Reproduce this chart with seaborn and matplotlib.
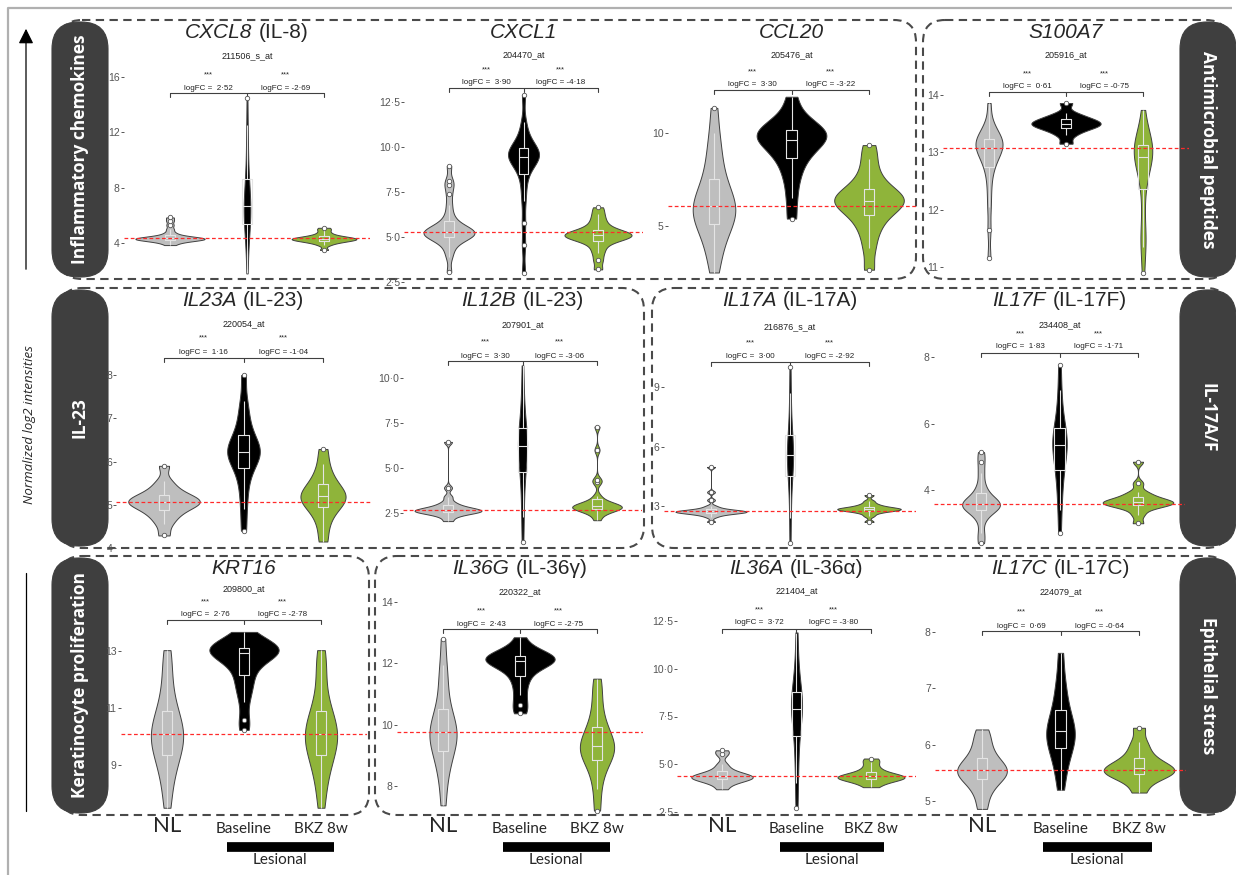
import numpy as np
import pandas as pd
import matplotlib
matplotlib.use("Agg")
import matplotlib.pyplot as plt
import matplotlib.transforms as mtransforms
from matplotlib.patches import FancyBboxPatch, FancyArrowPatch
import seaborn as sns

sns.set_theme(style="white")
plt.rcParams['font.family'] = ['Liberation Sans', 'DejaVu Sans']

# ---------------- data ----------------
GROUPS = ["NL", "Baseline", "BKZ 8w"]
GROUP_COLORS = ["#bebebe", "#000000", "#8fb43a"]

GENES = ["CXCL8", "CXCL1", "CCL20", "S100A7",
         "IL23A", "IL12B", "IL17A", "IL17F",
         "KRT16", "IL36G", "IL36A", "IL17C"]
PROTEINS = ["IL-8", "", "", "",
            "IL-23", "IL-23", "IL-17A", "IL-17F",
            "", "IL-36γ", "IL-36α", "IL-17C"]
PROBES = ["211506_s_at", "204470_at", "205476_at", "205916_at",
          "220054_at", "207901_at", "216876_s_at", "234408_at",
          "209800_at", "220322_at", "221404_at", "224079_at"]
LOGFC_BASELINE = [2.52, 3.90, 3.30, 0.61, 1.16, 3.30, 3.00, 1.83, 2.76, 2.43, 3.72, 0.69]
LOGFC_BKZ = [-2.69, -4.18, -3.22, -0.75, -1.04, -3.06, -2.92, -1.71, -2.78, -2.75, -3.80, -0.64]
SIGNIF = "***"

YTICKS = [[4, 8, 12, 16], [2.5, 5, 7.5, 10, 12.5], [5, 10], [11, 12, 13, 14],
          [4, 5, 6, 7, 8], [2.5, 5, 7.5, 10], [3, 6, 9], [4, 6, 8],
          [9, 11, 13], [8, 10, 12, 14], [2.5, 5, 7.5, 10, 12.5], [5, 6, 7, 8]]

CXCL8_NL = [3.85, 4.0, 4.1, 4.15, 4.2, 4.22, 4.25, 4.28, 4.3, 4.3, 4.32, 4.35, 4.38, 4.4, 4.45, 4.5, 4.6, 4.75, 5.0, 5.3, 5.6, 5.85]
CXCL8_BASE = [1.8, 3.2, 4.0, 4.6, 5.0, 5.4, 5.7, 6.0, 6.3, 6.5, 6.7, 7.0, 7.4, 7.8, 8.1, 8.6, 9.3, 10.2, 11.3, 12.5, 14.5]
CXCL8_BKZ = [3.5, 3.85, 4.0, 4.08, 4.12, 4.18, 4.22, 4.25, 4.27, 4.3, 4.33, 4.36, 4.4, 4.45, 4.5, 4.6, 4.75, 4.95, 5.1]

CXCL1_NL = [3.05, 3.9, 4.3, 4.6, 4.8, 4.9, 4.98, 5.05, 5.1, 5.15, 5.2, 5.24, 5.28, 5.32, 5.37, 5.43, 5.5, 5.6, 5.75, 5.95, 6.3, 6.8, 7.4, 7.9, 8.1, 8.95]
CXCL1_BASE = [3.0, 4.55, 5.8, 7.0, 7.8, 8.4, 8.8, 9.05, 9.2, 9.32, 9.42, 9.5, 9.58, 9.66, 9.75, 9.85, 9.98, 10.15, 10.4, 10.8, 11.4, 12.9]
CXCL1_BKZ = [3.2, 3.7, 4.1, 4.4, 4.65, 4.8, 4.9, 4.95, 5.0, 5.05, 5.1, 5.15, 5.2, 5.25, 5.3, 5.4, 5.55, 5.75, 6.0, 6.3, 6.65]

CCL20_NL = [2.5, 3.4, 4.0, 4.5, 4.9, 5.2, 5.4, 5.6, 5.8, 6.0, 6.2, 6.4, 6.7, 7.0, 7.4, 7.9, 8.5, 9.2, 10.0, 11.35]
CCL20_BASE = [5.4, 6.5, 7.4, 8.0, 8.5, 8.8, 9.1, 9.3, 9.5, 9.65, 9.8, 9.9, 10.0, 10.1, 10.25, 10.45, 10.7, 11.1, 11.95]
CCL20_BKZ = [2.65, 3.8, 4.6, 5.1, 5.5, 5.8, 6.0, 6.15, 6.28, 6.4, 6.52, 6.66, 6.82, 7.05, 7.4, 7.9, 8.6, 9.35]

S100A7_NL = [11.15, 11.65, 12.05, 12.35, 12.6, 12.75, 12.85, 12.92, 12.98, 13.03, 13.07, 13.11, 13.14, 13.17, 13.2, 13.23, 13.27, 13.32, 13.4, 13.52, 13.86]
S100A7_BASE = [13.15, 13.3, 13.38, 13.42, 13.45, 13.48, 13.5, 13.52, 13.55, 13.58, 13.62, 13.68, 13.86]
S100A7_BKZ = [10.9, 11.35, 11.45, 11.7, 12.1, 12.45, 12.62, 12.74, 12.82, 12.88, 12.94, 12.99, 13.04, 13.08, 13.12, 13.16, 13.22, 13.3, 13.45, 13.74]

IL23A_NL = [4.29, 4.55, 4.7, 4.8, 4.88, 4.95, 5.0, 5.03, 5.06, 5.1, 5.13, 5.17, 5.22, 5.3, 5.4, 5.55, 5.9]
IL23A_BASE = [4.4, 4.9, 5.3, 5.6, 5.82, 5.97, 6.07, 6.14, 6.2, 6.26, 6.32, 6.4, 6.5, 6.65, 6.85, 7.1, 7.4, 8.0]
IL23A_BKZ = [4.15, 4.5, 4.75, 4.9, 5.0, 5.08, 5.14, 5.2, 5.26, 5.33, 5.42, 5.55, 5.7, 5.95, 6.29]

IL12B_NL = [2.05, 2.3, 2.42, 2.5, 2.55, 2.58, 2.6, 2.62, 2.65, 2.68, 2.72, 2.78, 2.85, 2.95, 3.1, 3.4, 3.9, 6.45]
IL12B_BASE = [0.9, 2.3, 3.3, 4.2, 4.8, 5.2, 5.6, 5.9, 6.2, 6.4, 6.6, 6.9, 7.2, 7.7, 8.4, 9.3, 10.7]
IL12B_BKZ = [2.1, 2.4, 2.55, 2.65, 2.7, 2.74, 2.78, 2.81, 2.84, 2.87, 2.9, 2.94, 3.0, 3.08, 3.2, 3.45, 4.2, 4.35, 6.0, 7.3]

IL17A_NL = [2.2, 2.45, 2.55, 2.6, 2.63, 2.66, 2.68, 2.7, 2.71, 2.72, 2.73, 2.75, 2.77, 2.8, 2.84, 2.9, 3.0, 3.3, 3.7, 4.97]
IL17A_BASE = [1.13, 2.4, 3.3, 4.0, 4.5, 4.85, 5.1, 5.35, 5.55, 5.75, 6.0, 6.3, 6.6, 7.1, 7.8, 8.7, 10.0]
IL17A_BKZ = [2.2, 2.5, 2.65, 2.72, 2.77, 2.8, 2.82, 2.84, 2.86, 2.88, 2.91, 2.95, 3.02, 3.1, 3.25, 3.55]

IL17F_NL = [2.4, 2.7, 3.1, 3.3, 3.4, 3.45, 3.49, 3.53, 3.57, 3.61, 3.66, 3.72, 3.8, 3.95, 4.15, 4.5, 4.84, 5.14]
IL17F_BASE = [2.7, 3.4, 3.9, 4.3, 4.6, 4.85, 5.05, 5.2, 5.35, 5.45, 5.55, 5.7, 5.85, 6.1, 6.5, 7.0, 7.75]
IL17F_BKZ = [3.0, 3.25, 3.42, 3.5, 3.55, 3.58, 3.6, 3.62, 3.65, 3.68, 3.72, 3.78, 3.85, 3.95, 4.2, 4.85]

KRT16_NL = [7.5, 8.2, 8.7, 9.0, 9.3, 9.5, 9.7, 9.85, 10.0, 10.15, 10.3, 10.5, 10.7, 10.95, 11.3, 11.8, 12.4, 13.03]
KRT16_BASE = [10.23, 10.58, 11.2, 11.6, 11.85, 12.1, 12.35, 12.55, 12.7, 12.8, 12.88, 12.95, 13.0, 13.03, 13.06, 13.09, 13.12, 13.16, 13.22, 13.3, 13.45, 13.67]
KRT16_BKZ = [7.5, 8.2, 8.7, 9.0, 9.3, 9.5, 9.7, 9.85, 10.0, 10.15, 10.3, 10.5, 10.7, 10.95, 11.3, 11.9, 12.5, 13.03]

IL36G_NL = [7.37, 8.1, 8.55, 8.85, 9.1, 9.3, 9.45, 9.58, 9.7, 9.82, 9.95, 10.1, 10.3, 10.6, 11.0, 11.5, 11.93, 12.8]
IL36G_BASE = [10.37, 10.63, 10.96, 11.3, 11.55, 11.75, 11.9, 11.98, 12.04, 12.08, 12.12, 12.16, 12.2, 12.24, 12.3, 12.38, 12.5, 12.85]
IL36G_BKZ = [7.2, 7.9, 8.4, 8.7, 8.9, 9.05, 9.15, 9.25, 9.35, 9.5, 9.65, 9.85, 10.1, 10.5, 11.0, 11.5]

IL36A_NL = [3.69, 3.95, 4.08, 4.16, 4.22, 4.27, 4.31, 4.35, 4.39, 4.44, 4.5, 4.6, 4.75, 5.0, 5.52, 5.73]
IL36A_BASE = [2.7, 4.0, 5.0, 5.8, 6.5, 7.0, 7.35, 7.65, 7.9, 8.1, 8.3, 8.55, 8.8, 9.2, 9.8, 10.6, 11.9]
IL36A_BKZ = [3.8, 4.0, 4.1, 4.18, 4.24, 4.28, 4.32, 4.36, 4.4, 4.46, 4.54, 4.66, 4.85, 5.1, 5.3]

IL17C_NL = [4.86, 5.1, 5.25, 5.35, 5.42, 5.47, 5.51, 5.55, 5.6, 5.66, 5.72, 5.82, 5.95, 6.1, 6.27]
IL17C_BASE = [5.2, 5.5, 5.7, 5.85, 5.97, 6.06, 6.13, 6.2, 6.27, 6.35, 6.45, 6.58, 6.75, 6.95, 7.2, 7.63]
IL17C_BKZ = [5.15, 5.33, 5.42, 5.47, 5.5, 5.53, 5.56, 5.6, 5.64, 5.7, 5.78, 5.9, 6.05, 6.3]

VALUES = [
    (CXCL8_NL, CXCL8_BASE, CXCL8_BKZ), (CXCL1_NL, CXCL1_BASE, CXCL1_BKZ),
    (CCL20_NL, CCL20_BASE, CCL20_BKZ), (S100A7_NL, S100A7_BASE, S100A7_BKZ),
    (IL23A_NL, IL23A_BASE, IL23A_BKZ), (IL12B_NL, IL12B_BASE, IL12B_BKZ),
    (IL17A_NL, IL17A_BASE, IL17A_BKZ), (IL17F_NL, IL17F_BASE, IL17F_BKZ),
    (KRT16_NL, KRT16_BASE, KRT16_BKZ), (IL36G_NL, IL36G_BASE, IL36G_BKZ),
    (IL36A_NL, IL36A_BASE, IL36A_BKZ), (IL17C_NL, IL17C_BASE, IL17C_BKZ),
]

LEFT_LABELS = ["Inflammatory chemokines", "IL-23", "Keratinocyte proliferation"]
RIGHT_LABELS = ["Antimicrobial peptides", "IL-17A/F", "Epithelial stress"]
Y_AXIS_LABEL = "Normalized log2 intensities"
BOTTOM_GROUP = "Lesional"

# ---------------- layout (pixels) ----------------
W, H = 1236, 875
NL_X = [170, 449, 714, 989, 164, 448, 711, 981, 167, 443, 722, 982]
BKZ_X = [324, 598, 869, 1143, 323, 597, 869, 1138, 321, 597, 871, 1139]
ROW_Y = [(58, 286), (340, 552), (592, 818)]
CALIB = [(4, 243, 16, 77), (2.5, 282, 12.5, 102), (5, 226, 10, 133), (11, 267, 14, 95),
         (4, 548, 8, 375), (2.5, 513, 10, 378), (3, 506, 9, 387), (4, 490, 8, 357),
         (9, 765, 13, 651), (8, 786, 14, 602), (2.5, 812, 12.5, 621), (5, 801, 8, 632)]
ANNOT_Y = [(33, 56, 75, 88, 93), (33, 55, 70, 83, 88), (33, 55, 72, 85, 90), (33, 55, 74, 87, 92),
           (301, 324, 338, 352, 358), (301, 325, 342, 356, 361), (301, 327, 343, 356, 362), (301, 325, 334, 347, 353),
           (568, 589, 602, 615, 620), (568, 592, 611, 624, 629), (568, 591, 610, 623, 629), (568, 592, 612, 626, 631)]
ROW_BOX_Y = [(20, 279), (288, 548), (556, 815)]
BOX_SPLIT = [(916, 923), (644, 652), (369, 375)]
TITLE_SIZE = 15


def nrd0(kde):
    """Silverman rule of thumb (as R's bw.nrd0), returned as a scipy factor."""
    d = np.asarray(kde.dataset).ravel()
    sd = d.std(ddof=1)
    q75, q25 = np.percentile(d, [75, 25])
    lo = min(sd, (q75 - q25) / 1.34) or sd
    return 0.9 * lo * len(d) ** (-0.2) / sd


fig = plt.figure(figsize=(W / 100, H / 100), dpi=100)
bg = fig.add_axes([0, 0, 1, 1], zorder=0)
bg.set_xlim(0, W)
bg.set_ylim(H, 0)
bg.axis('off')
renderer = fig.canvas.get_renderer()

bg.plot([8, 8, 1232], [875, 8, 8], color="#b0b0b0", lw=1.6, solid_capstyle='butt')

dash = (0, (4, 2.6))
for (y0, y1), (xa, xb) in zip(ROW_BOX_Y, BOX_SPLIT):
    for x0, x1 in [(60, xa), (xb, 1228)]:
        bg.add_patch(FancyBboxPatch((x0, y0), x1 - x0, y1 - y0,
                                    boxstyle="round,pad=0,rounding_size=22",
                                    fill=False, ec="#4a4a4a", lw=1.5, ls=dash, zorder=1))

for (y0, y1), ltxt, rtxt in zip(ROW_BOX_Y, LEFT_LABELS, RIGHT_LABELS):
    for x0, x1, txt, rot in [(52, 108, ltxt, 90), (1180, 1236, rtxt, -90)]:
        bg.add_patch(FancyBboxPatch((x0, y0 + 2), x1 - x0, y1 - y0 - 4,
                                    boxstyle="round,pad=0,rounding_size=27",
                                    fc="#3f3f3f", ec="#3f3f3f", lw=0.8, zorder=3))
        bg.text((x0 + x1) / 2, (y0 + y1) / 2, txt, rotation=rot, color="white",
                ha="center", va="center", fontsize=12.5, fontweight="bold",
                family=["Open Sans", "DejaVu Sans"], zorder=4)

bg.add_patch(FancyArrowPatch((26, 272), (26, 26), arrowstyle="-|>,head_length=6,head_width=3",
                             color="black", lw=0.9, mutation_scale=1.5, zorder=2))
bg.plot([26, 26], [573, 811], color="black", lw=0.9)
bg.text(30, 425, Y_AXIS_LABEL, rotation=90, ha="center", va="center", fontsize=9.5,
        style="italic", family=["Open Sans", "DejaVu Sans"])


def fmt_tick(v, decimal):
    s = f"{v:.1f}" if decimal else f"{int(round(v))}"
    return s.replace(".", "·")


def fmt_fc(v):
    s = f"{abs(v):.2f}".replace(".", "·")
    return f"logFC =  {s}" if v >= 0 else f"logFC = -{s}"


for i, gene in enumerate(GENES):
    row = i // 4
    nl, bkz = NL_X[i], BKZ_X[i]
    sp = (bkz - nl) / 2
    left, right = nl - 0.6 * sp, bkz + 0.6 * sp
    ytop, ybot = ROW_Y[row]
    va_, pa, vb, pb = CALIB[i]
    s = (pa - pb) / (vb - va_)
    vbot = va_ + (pa - ybot) / s
    vtop = va_ + (pa - ytop) / s

    ax = fig.add_axes([left / W, 1 - ybot / H, (right - left) / W, (ybot - ytop) / H], zorder=2)
    ax.patch.set_alpha(0)

    vals = VALUES[i]
    df = pd.DataFrame({
        "group": np.repeat(GROUPS, [len(v) for v in vals]),
        "value": np.concatenate([np.asarray(v, float) for v in vals]),
    })
    sns.violinplot(data=df, x="group", y="value", hue="group", order=GROUPS, hue_order=GROUPS,
                   palette=dict(zip(GROUPS, GROUP_COLORS)), cut=0, inner=None,
                   density_norm="area", common_norm=True, width=0.9, linewidth=0.7,
                   linecolor="#404040", bw_method=nrd0, bw_adjust=1.0, saturation=1,
                   legend=False, ax=ax)
    sns.boxplot(data=df, x="group", y="value", order=GROUPS, width=0.13, fill=False,
                color="#e4e4e4", linewidth=0.8, showcaps=False, fliersize=3.2, ax=ax)
    for ln in ax.lines:
        if ln.get_linestyle() in ("None", "") and ln.get_marker() not in ("None", "", None):
            ln.set_marker("o")
            ln.set_markerfacecolor("white")
            ln.set_markeredgecolor("#555555")
            ln.set_markeredgewidth(0.6)
            ln.set_zorder(4)

    ax.axhline(np.median(vals[0]), color="#ff2a2a", lw=0.9, ls=(0, (3, 2)), zorder=6)

    ax.set_xlim(-0.6, 2.6)
    ax.set_ylim(vbot, vtop)
    ticks = YTICKS[i]
    dec = any(abs(t - round(t)) > 1e-9 for t in ticks)
    ax.set_yticks(ticks)
    ax.set_yticklabels([fmt_tick(t, dec) for t in ticks], fontsize=7.5, color="#555555")
    ax.tick_params(axis="y", left=True, length=2, width=0.7, color="#555555", pad=1)
    ax.tick_params(axis="x", bottom=False, labelbottom=False)
    ax.set_xlabel("")
    ax.set_ylabel("")
    for sp_ in ax.spines.values():
        sp_.set_visible(False)

    tr = mtransforms.blended_transform_factory(ax.transData, bg.transData)
    ty, py, sy, fy, by = ANNOT_Y[i]

    cx = (nl + bkz) / 2
    t1 = bg.text(cx, ty, gene, style="italic", fontsize=TITLE_SIZE, ha="left", va="center")
    parts = [t1]
    if PROTEINS[i]:
        t2 = bg.text(cx, ty, f"({PROTEINS[i]})", fontsize=TITLE_SIZE, ha="left", va="center")
        parts.append(t2)
    widths = [p.get_window_extent(renderer).width for p in parts]
    gap = 0.3 * TITLE_SIZE * 100 / 72
    total = sum(widths) + gap * (len(parts) - 1)
    x0 = cx - total / 2
    for p, w in zip(parts, widths):
        p.set_x(x0)
        x0 += w + gap

    ax.text(1, py, PROBES[i], transform=tr, ha="center", va="center", fontsize=6.5,
            color="#222222", clip_on=False)
    for xm, fc in [(0.5, LOGFC_BASELINE[i]), (1.5, LOGFC_BKZ[i])]:
        ax.text(xm, sy, SIGNIF, transform=tr, ha="center", va="center", fontsize=5.5, clip_on=False)
        ax.text(xm, fy, fmt_fc(fc), transform=tr, ha="center", va="center", fontsize=5.8,
                color="#222222", clip_on=False)
    ax.plot([0, 2], [by, by], transform=tr, color="#404040", lw=0.8, clip_on=False)
    for xg in [0, 1, 2]:
        ax.plot([xg, xg], [by, by + 4], transform=tr, color="#404040", lw=0.8, clip_on=False)

    if row == 2:
        for g, name in enumerate(GROUPS):
            big = name == "NL"
            ax.text(g, 826 if big else 829, name, transform=tr, ha="center", va="center",
                    fontsize=16 if big else 11, family=["Lato", "DejaVu Sans"], clip_on=False)
        ax.plot([0.78, 2.17], [847, 847], transform=tr, color="black", lw=7,
                solid_capstyle="butt", clip_on=False)
        ax.text(1.47, 860, BOTTOM_GROUP, transform=tr, ha="center", va="center",
                fontsize=11, family=["Lato", "DejaVu Sans"], clip_on=False)

fig.savefig("out.png", dpi=100)
